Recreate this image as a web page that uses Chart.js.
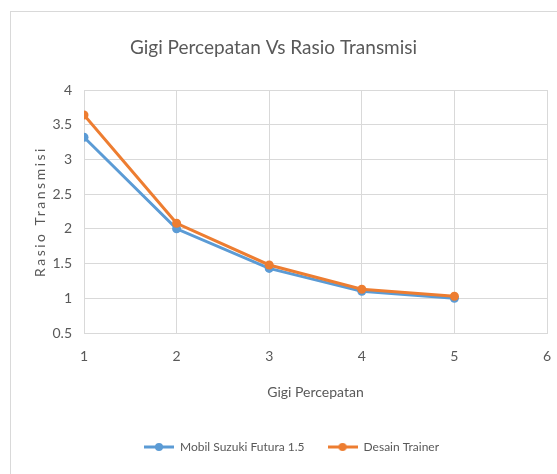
<!DOCTYPE html>
<html>
<head>
<meta charset="utf-8">
<script src="https://cdn.jsdelivr.net/npm/chart.js@4/dist/chart.umd.min.js"></script>
<style>
  html, body { margin: 0; padding: 0; background: #fff; }
  #wrap { width: 557px; height: 474px; }
</style>
</head>
<body>
<div id="wrap"><canvas id="myChart" width="557" height="474"></canvas></div>
<script>
/* data */
const gears = [1, 2, 3, 4, 5];
const suzukiRatio = [3.32, 2.0, 1.43, 1.10, 1.00];
const trainerRatio = [3.64, 2.08, 1.48, 1.13, 1.03];
const seriesNames = ['Mobil Suzuki Futura 1.5', 'Desain Trainer'];
const seriesColors = ['#5B9BD5', '#ED7D31'];

const FONT = 'Lato, "Open Sans", sans-serif';
const TEXT = '#595959';
const GRID = '#d9d9d9';

/* little line-with-dot used as legend marker */
function makeMarker(color){
  const c = document.createElement('canvas');
  c.width = 30;
  c.height = 10;
  const g = c.getContext('2d');
  g.strokeStyle = color;
  g.lineWidth = 3;
  g.beginPath();
  g.moveTo(0, 5);
  g.lineTo(30, 5);
  g.stroke();
  g.fillStyle = color;
  g.beginPath();
  g.arc(15, 5, 4, 0, Math.PI * 2);
  g.fill();
  return c;
}

/* outer frame of the chart */
const framePlugin = {
  id: 'frame',
  beforeDraw: function(chart){
    const ctx = chart.ctx;
    ctx.save();
    ctx.fillStyle = '#fff';
    ctx.fillRect(0, 0, chart.width, chart.height);
    ctx.strokeStyle = GRID;
    ctx.lineWidth = 1;
    ctx.strokeRect(10.5, 11.5, 700, 700);
    ctx.restore();
  },
};

/* spread the letters of the y title, shift legend a bit to the right */
const tweakPlugin = {
  id: 'tweak',
  afterLayout: function(chart){
    const y = chart.scales.y;
    if(y && !y._spaced){
      const orig = y.drawTitle;
      y.drawTitle = function(){
        this.ctx.save();
        this.ctx.letterSpacing = '2.5px';
        orig.call(this);
        this.ctx.restore();
      };
      y._spaced = true;
    }
    chart.legend.left = 36;
  },
};

const points = function(values){
  return values.map(function(v, i){ return {x: gears[i], y: v}; });
};

const ctx = document.getElementById('myChart').getContext('2d');
const chart = new Chart(ctx, {
  type: 'line',
  data: {
    datasets: [{
      label: seriesNames[0],
      data: points(suzukiRatio),
      borderColor: seriesColors[0],
      backgroundColor: seriesColors[0],
      order: 1,
    },
    {
      label: seriesNames[1],
      data: points(trainerRatio),
      borderColor: seriesColors[1],
      backgroundColor: seriesColors[1],
      order: 0,
    }],
  },
  options: {
    responsive: false,
    animation: false,
    devicePixelRatio: 1,
    elements: {
      line: { borderWidth: 3, tension: 0 },
      point: { radius: 4.5, borderWidth: 0 },
    },
    layout: { padding: { left: 0, right: 10, top: 0, bottom: 11 } },
    scales: {
      x: {
        type: 'linear',
        min: 1,
        max: 6,
        ticks: { stepSize: 1, color: TEXT, padding: 15, font: { family: FONT, size: 14 } },
        grid: { color: GRID, drawTicks: false },
        border: { color: GRID },
        title: {
          display: true,
          text: 'Gigi Percepatan',
          color: TEXT,
          font: { family: FONT, size: 14 },
          padding: { top: 0, bottom: 17.6 },
        },
        afterFit: function(s){
          s.height = 85;
          s.paddingRight = 0;
        },
      },
      y: {
        min: 0.5,
        max: 4,
        ticks: {
          stepSize: 0.5,
          color: TEXT,
          padding: 12,
          font: { family: FONT, size: 14 },
          callback: function(value){ return String(value); },
        },
        grid: { color: GRID, drawTicks: false },
        border: { color: GRID },
        title: {
          display: true,
          text: 'Rasio Transmisi',
          color: TEXT,
          font: { family: FONT, size: 14 },
          padding: { top: 31.6, bottom: 0 },
        },
        afterFit: function(s){ s.width = 84; },
      },
    },
    plugins: {
      title: {
        display: true,
        text: 'Gigi Percepatan Vs Rasio Transmisi',
        color: TEXT,
        font: { family: FONT, size: 19, weight: 'normal' },
        padding: { top: 36.6, bottom: 30.6 },
      },
      legend: {
        position: 'bottom',
        labels: {
          usePointStyle: true,
          pointStyleWidth: 30,
          padding: 23,
          color: TEXT,
          font: { family: FONT, size: 12 },
          generateLabels: function(chart){
            return chart.data.datasets.map(function(ds, i){
              return {
                text: ds.label,
                pointStyle: makeMarker(ds.borderColor),
                datasetIndex: i,
                hidden: !chart.isDatasetVisible(i),
                fontColor: TEXT,
                lineWidth: 0,
                strokeStyle: ds.borderColor,
                fillStyle: ds.borderColor,
              };
            });
          },
        },
      },
      tooltip: { enabled: false },
    },
  },
  plugins: [framePlugin, tweakPlugin],
});
</script>
</body>
</html>
